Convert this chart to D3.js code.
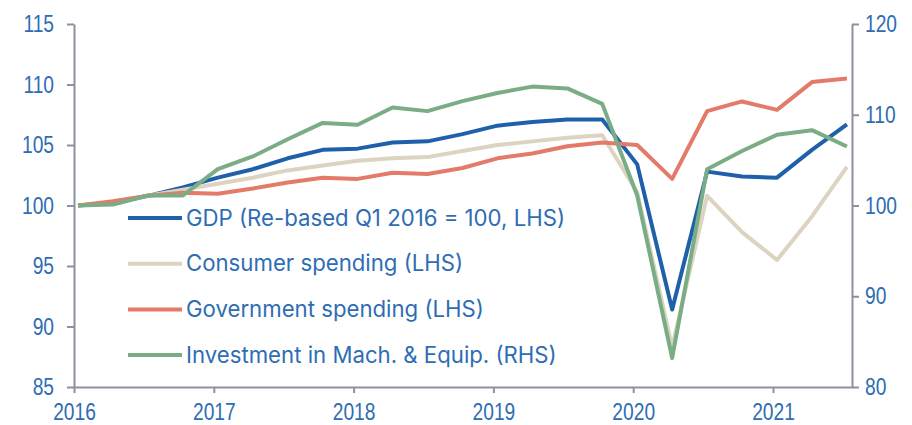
<!DOCTYPE html>
<html>
<head>
<meta charset="utf-8">
<script src="https://cdn.jsdelivr.net/npm/d3@7"></script>
<style>
  body { margin: 0; background: #fff; }
  svg { display: block; }
  .tick text { font-family: "Liberation Sans", Arial, sans-serif; }
</style>
</head>
<body>
<svg></svg>
<script>
var quarters = ["2016Q1","2016Q2","2016Q3","2016Q4","2017Q1","2017Q2","2017Q3","2017Q4",
                "2018Q1","2018Q2","2018Q3","2018Q4","2019Q1","2019Q2","2019Q3","2019Q4",
                "2020Q1","2020Q2","2020Q3","2020Q4","2021Q1","2021Q2","2021Q3"];

var gdp = [100, 100.2, 100.8, 101.5, 102.3, 103.0, 103.9, 104.6, 104.7, 105.2, 105.3, 105.9,
           106.6, 106.9, 107.1, 107.1, 103.4, 91.4, 102.8, 102.4, 102.3, 104.6, 106.7];
var consumer = [100, 100.2, 100.8, 101.3, 101.8, 102.3, 102.9, 103.3, 103.7, 103.9, 104.0, 104.5,
                105.0, 105.3, 105.6, 105.8, 101.1, 88.3, 100.8, 97.8, 95.5, 99.1, 103.2];
var government = [100, 100.35, 100.8, 101.05, 100.97, 101.4, 101.9, 102.3, 102.2, 102.7, 102.6, 103.1,
                  103.9, 104.3, 104.9, 105.2, 105.0, 102.2, 107.8, 108.6, 107.9, 110.2, 110.5];
var investment = [100, 100.1, 101.1, 101.1, 104.0, 105.4, 107.3, 109.1, 108.9, 110.8, 110.4, 111.5,
                  112.4, 113.1, 112.9, 111.2, 101.1, 83.2, 104.0, 106.0, 107.8, 108.3, 106.5];

var yearTicks = [2016, 2017, 2018, 2019, 2020, 2021];
var leftTicks = [85, 90, 95, 100, 105, 110, 115];
var rightTicks = [80, 90, 100, 110, 120];

var seriesNames = ["GDP (Re-based Q1 2016 = 100, LHS)", "Consumer spending (LHS)",
                   "Government spending (LHS)", "Investment in Mach. & Equip. (RHS)"];

var width = 912, height = 425;
var margin = {top: 24, right: 60, bottom: 38, left: 74};
var axisColor = "#8e8fa3";
var textColor = "#2e6db4";
var squeeze = 0.8; // tick labels are a narrow face

var svg = d3.select("svg").attr("width", width).attr("height", height);

// quarter label -> fractional year (points sit a little after the quarter start)
function qx(q) {
  return +q.slice(0, 4) + (+q.slice(5) - 1) / 4 + 0.0286;
}

var x = d3.scaleLinear()
          .domain([2016, 2021.565])
          .range([margin.left, width - margin.right]);
var yL = d3.scaleLinear().domain([85, 115]).range([height - margin.bottom, margin.top]);
var yR = d3.scaleLinear().domain([80, 120]).range([height - margin.bottom, margin.top]);

// drawing order: primary series first, secondary axis series on top
var series = [
  {name: seriesNames[0], values: gdp, y: yL, color: "#1f60aa"},
  {name: seriesNames[1], values: consumer, y: yL, color: "#dcd4c1"},
  {name: seriesNames[2], values: government, y: yL, color: "#e47a69"},
  {name: seriesNames[3], values: investment, y: yR, color: "#7aad86"}
];

// axes
var xAxis = svg.append("g")
  .attr("transform", `translate(0,${height - margin.bottom})`)
  .call(d3.axisBottom(x).tickValues(yearTicks).tickFormat(d3.format("d")).tickSize(6).tickSizeOuter(0));

var leftAxis = svg.append("g")
  .attr("transform", `translate(${margin.left},0)`)
  .call(d3.axisLeft(yL).tickValues(leftTicks).tickSize(7).tickSizeOuter(0).tickPadding(13));

var rightAxis = svg.append("g")
  .attr("transform", `translate(${width - margin.right},0)`)
  .call(d3.axisRight(yR).tickValues(rightTicks).tickSize(7).tickSizeOuter(0).tickPadding(6));

[xAxis, leftAxis, rightAxis].forEach(function(g) {
  g.select(".domain").attr("stroke", axisColor).attr("stroke-width", 2);
  g.selectAll(".tick line").attr("stroke", axisColor).attr("stroke-width", 2);
  g.selectAll(".tick text")
    .attr("fill", textColor)
    .style("font-size", "24px")
    .each(function() {
      var t = d3.select(this);
      var tx = +t.attr("x") || 0;
      t.attr("x", tx / squeeze).attr("transform", `scale(${squeeze},1)`);
    });
});
xAxis.selectAll(".tick text").attr("dy", "1.0em");

// lines
series.forEach(function(s) {
  var line = d3.line()
    .x((d, i) => x(qx(quarters[i])))
    .y(d => s.y(d));
  svg.append("path")
    .datum(s.values)
    .attr("fill", "none")
    .attr("stroke", s.color)
    .attr("stroke-width", 4)
    .attr("stroke-linejoin", "round")
    .attr("d", line);
});

// legend
var legend = svg.append("g").attr("transform", "translate(128,218)");
series.forEach(function(s, i) {
  var row = legend.append("g").attr("transform", `translate(0,${i * 45.7})`);
  row.append("line")
    .attr("x1", 0).attr("x2", 54)
    .attr("stroke", s.color).attr("stroke-width", 4);
  row.append("text")
    .attr("x", 58).attr("dy", "0.35em")
    .attr("fill", textColor)
    .style("font-family", "Inter, 'Open Sans', sans-serif")
    .style("font-size", "22.2px")
    .text(s.name);
});
</script>
</body>
</html>
